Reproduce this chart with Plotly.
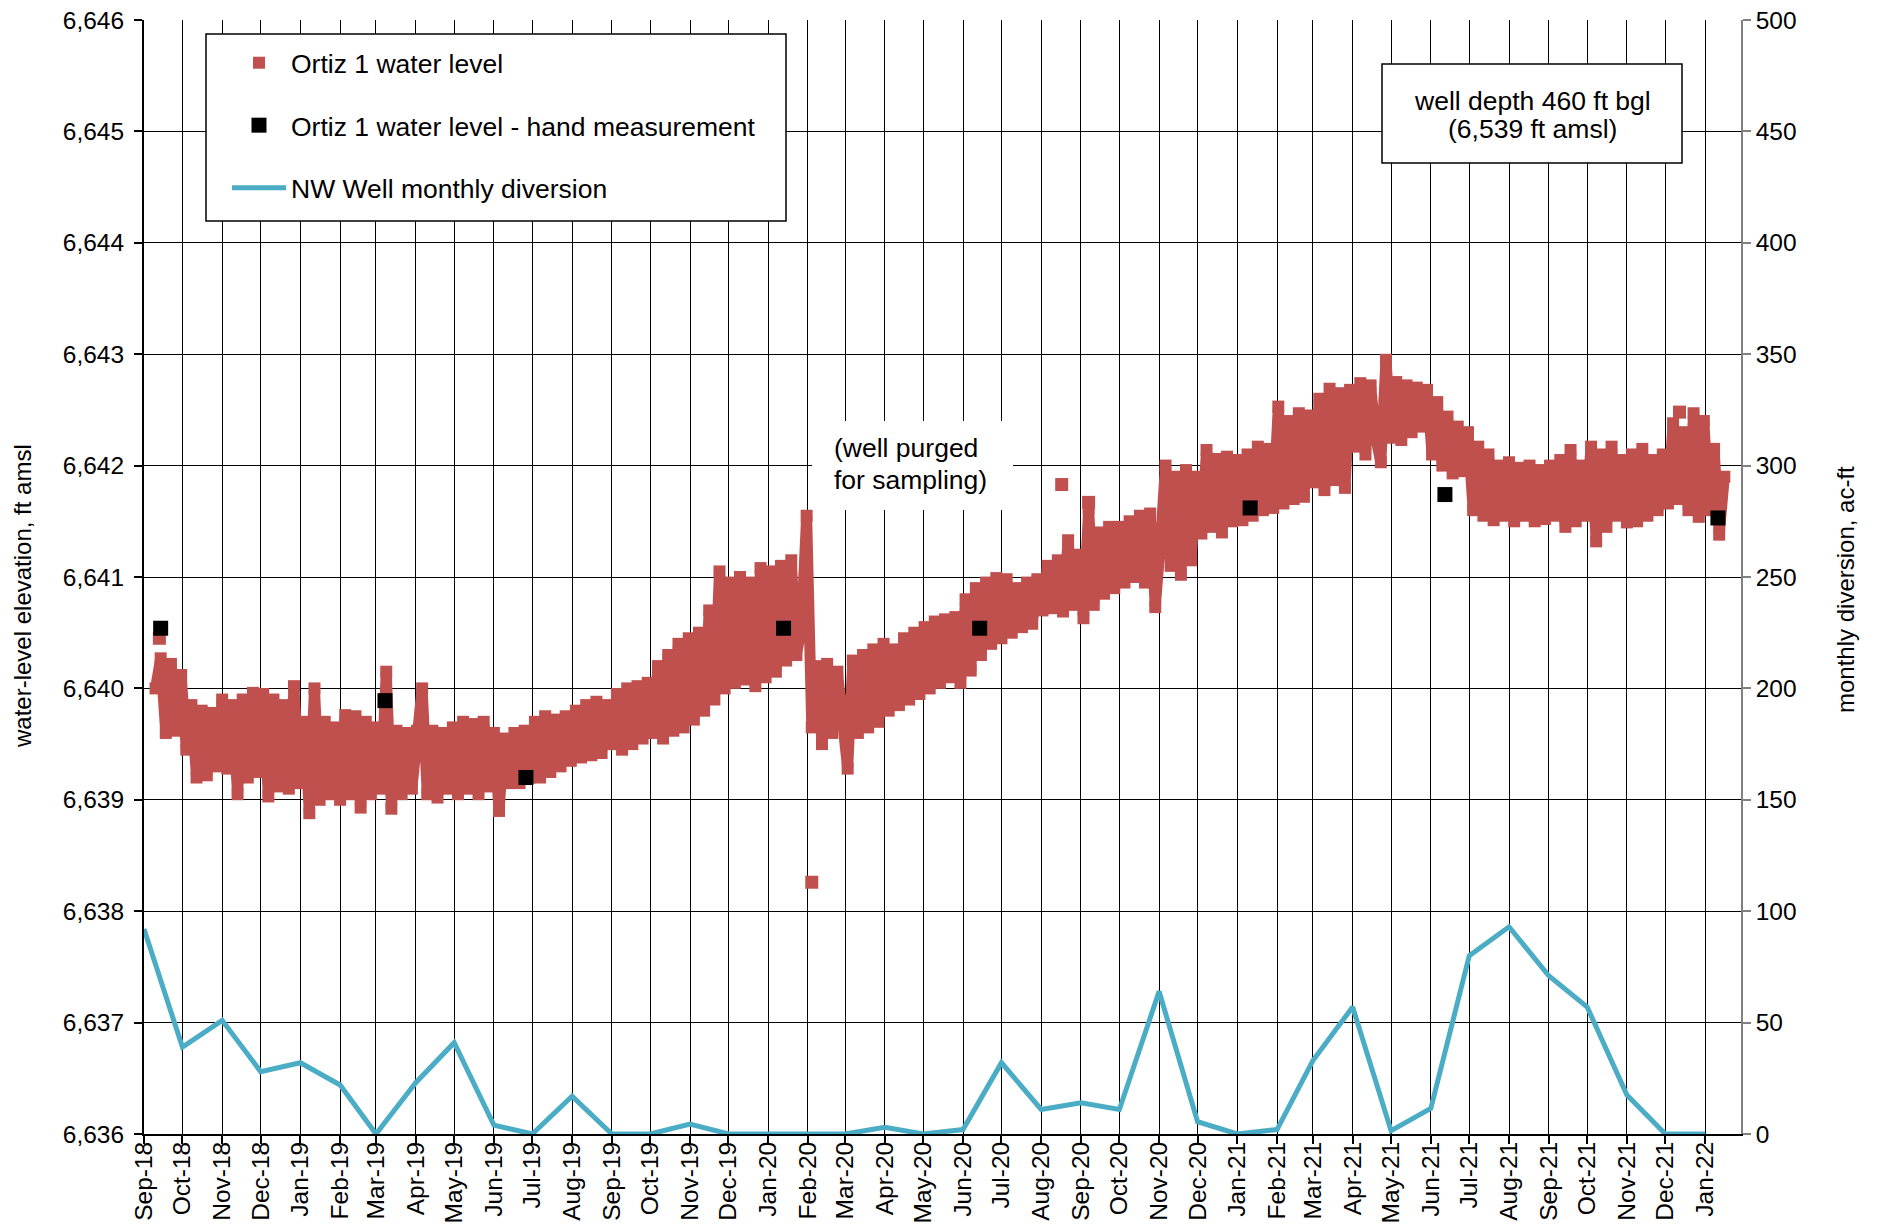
import pandas as pd
import plotly.graph_objects as go

FONT = "Liberation Sans, Arial, sans-serif"
RED = "#C0504D"
BLUE = "#4BACC6"

# ---------------- data ----------------
# Ortiz 1 transducer record, one reading every 4 days from 2018-09-10 (daily lows / highs alternate)
wl_start = "2018-09-10"
wl_2018 = [6640.0, 6640.27, 6639.6, 6640.22, 6639.62, 6640.12,
           6639.45, 6639.85, 6639.2, 6639.8, 6639.22, 6639.78, 6639.3,
           6639.9, 6639.28, 6639.85, 6639.05, 6639.9, 6639.2, 6639.96, 6639.25,
           6639.95, 6639.03, 6639.9, 6639.12, 6639.85, 6639.1, 6640.02, 6639.15]
wl_2019 = [6639.7, 6638.88, 6640.0, 6639.0, 6639.7, 6639.05, 6639.65,
           6639.0, 6639.76, 6639.05, 6639.75, 6638.93, 6639.7, 6639.05,
           6639.65, 6639.1, 6640.15, 6638.92, 6639.62, 6639.05, 6639.6, 6639.1,
           6639.62, 6640.0, 6639.05, 6639.62, 6639.02, 6639.6, 6639.1, 6639.65,
           6639.05, 6639.7, 6639.1, 6639.68, 6639.05, 6639.7, 6639.12,
           6639.6, 6638.9, 6639.55, 6639.15, 6639.6, 6639.15, 6639.62, 6639.2,
           6639.7, 6639.2, 6639.75, 6639.25, 6639.72, 6639.3, 6639.75, 6639.35,
           6639.8, 6639.38, 6639.85, 6639.4, 6639.88, 6639.42, 6639.85,
           6639.5, 6639.95, 6639.45, 6640.0, 6639.5, 6640.02, 6639.55, 6640.05,
           6639.6, 6640.2, 6639.55, 6640.3, 6639.62, 6640.4, 6639.65, 6640.45,
           6639.72, 6640.5, 6639.8, 6640.7, 6639.9, 6641.05, 6640.0,
           6640.95, 6640.05, 6641.0, 6640.08, 6640.95, 6640.02, 6641.08, 6640.1]
wl_2020 = [6641.05, 6640.15, 6641.1, 6640.25, 6641.15, 6640.3, 6640.55, 6641.55,
           6639.65, 6640.2, 6639.5, 6640.22, 6639.6, 6640.15, 6639.75,
           6639.28, 6640.25, 6639.6, 6640.3, 6639.65, 6640.35, 6639.7, 6640.4,
           6639.8, 6640.35, 6639.85, 6640.45, 6639.9, 6640.5, 6639.95,
           6640.55, 6640.0, 6640.6, 6640.05, 6640.62, 6640.1, 6640.64, 6640.05,
           6640.8, 6640.16, 6640.9, 6640.3, 6640.95, 6640.4, 6640.99,
           6640.45, 6640.98, 6640.5, 6640.9, 6640.55, 6640.95, 6640.58, 6640.98,
           6640.7, 6641.1, 6640.72, 6641.15, 6640.69, 6641.33, 6640.75, 6641.2,
           6640.63, 6641.62, 6640.75, 6641.4, 6640.85, 6641.45, 6640.9,
           6641.45, 6640.95, 6641.5, 6641.0, 6641.55, 6640.95, 6641.57, 6640.73,
           6641.3, 6642.0, 6641.1, 6641.9, 6641.02, 6641.96, 6641.15, 6641.9,
           6641.39, 6642.14, 6641.45, 6642.06, 6641.4, 6642.08, 6641.5]
wl_2021 = [6642.05, 6641.51, 6642.1, 6641.55, 6642.17, 6641.6, 6642.15, 6641.62,
           6642.53, 6641.66, 6642.4, 6641.7, 6642.47, 6641.72, 6642.45,
           6641.85, 6642.6, 6641.78, 6642.69, 6641.87, 6642.65, 6641.8, 6642.68,
           6642.17, 6642.74, 6642.1, 6642.72, 6642.25, 6642.03, 6642.95,
           6642.25, 6642.75, 6642.23, 6642.72, 6642.3, 6642.7, 6642.35, 6642.68,
           6642.1, 6642.57, 6642.0, 6642.44, 6641.93, 6642.35, 6641.95, 6642.3,
           6641.6, 6642.17, 6641.55, 6642.1, 6641.51, 6642.0, 6641.55,
           6642.03, 6641.5, 6641.98, 6641.55, 6642.0, 6641.5, 6641.96, 6641.52,
           6642.0, 6641.55, 6642.05, 6641.45, 6642.14, 6641.5, 6642.0, 6641.55,
           6642.17, 6641.32, 6642.1, 6641.45, 6642.17, 6641.55, 6642.05,
           6641.49, 6642.1, 6641.5, 6642.15, 6641.55, 6642.05, 6641.6, 6642.1,
           6641.66, 6642.38, 6641.7, 6642.3, 6641.6, 6642.47, 6641.54, 6642.4]
wl_2022 = [6641.6, 6642.15, 6641.38, 6641.9]

# isolated transducer readings
wl_spot_dates = ["2018-09-13", "2020-02-04", "2020-08-17", "2020-09-07", "2021-12-12"]
wl_spot_vals = [6640.45, 6638.26, 6641.83, 6641.67, 6642.48]

# hand measurements
hand_dates = ["2018-09-14", "2019-03-08", "2019-06-26", "2020-01-13",
              "2020-06-14", "2021-01-11", "2021-06-12", "2022-01-11"]
hand_vals = [6640.54, 6639.89, 6639.20, 6640.54, 6640.54, 6641.62, 6641.74, 6641.53]

# NW Well monthly diversion (ac-ft), Sep-18 .. Jan-22
div_start = "2018-09-01"
div_vals = [92, 39, 51, 28, 32, 22, 0, 23, 41, 4, 0, 17,
            0, 0, 4.5, 0, 0, 0, 0, 3, 0, 2, 32, 11,
            14, 11, 64, 5.5, 0, 2, 33, 57, 1.5, 11.5, 80, 93,
            71, 57, 17.5, 0, 0]

# ---------------- figure ----------------
wl_vals = wl_2018 + wl_2019 + wl_2020 + wl_2021 + wl_2022
wl_dates = [d.strftime("%Y-%m-%d") for d in pd.date_range(wl_start, periods=len(wl_vals), freq="4D")]
div_dates = [d.strftime("%Y-%m-%d") for d in pd.date_range(div_start, periods=len(div_vals), freq="MS")]

W, H = 1879, 1230
ML, MR, MT, MB = 144, 138, 20, 96
PW, PH = W - ML - MR, H - MT - MB


def px(x):
    return (x - ML) / PW


def py(y):
    return (H - MB - y) / PH


fig = go.Figure()

# legend entry for the transducer record
fig.add_trace(go.Scatter(x=[wl_dates[0]], y=[None], mode="markers", name="Ortiz 1 water level",
                         marker=dict(symbol="square", size=12, color=RED),
                         legendgroup="a"))
# continuous record
fig.add_trace(go.Scatter(x=wl_dates, y=wl_vals, mode="lines+markers", showlegend=False,
                         line=dict(color=RED, width=11),
                         marker=dict(symbol="square", size=12, color=RED),
                         legendgroup="a"))
fig.add_trace(go.Scatter(x=wl_spot_dates, y=wl_spot_vals, mode="markers",
                         showlegend=False, marker=dict(symbol="square", size=13, color=RED),
                         legendgroup="a"))
fig.add_trace(go.Scatter(x=hand_dates, y=hand_vals, mode="markers",
                         name="Ortiz 1 water level - hand measurement",
                         marker=dict(symbol="square", size=15, color="black"),
                         legendgroup="b"))
fig.add_trace(go.Scatter(x=div_dates, y=div_vals, mode="lines", yaxis="y2",
                         name="NW Well monthly diversion",
                         line=dict(color=BLUE, width=5), legendgroup="c"))

shapes = [
    # legend frame
    dict(type="rect", xref="paper", yref="paper", x0=px(206), x1=px(786), y0=py(221), y1=py(34),
         line=dict(color="black", width=1.5), fillcolor="white", layer="above"),
    # well depth box
    dict(type="rect", xref="paper", yref="paper", x0=px(1382), x1=px(1682), y0=py(163), y1=py(64),
         line=dict(color="black", width=1.5), fillcolor="white", layer="above"),
    # purge note background
    dict(type="rect", xref="paper", yref="paper", x0=px(812), x1=px(1013), y0=py(510), y1=py(421),
         line=dict(width=0), fillcolor="white", layer="above"),
]

afont = dict(family=FONT, size=26.5, color="black")
tfont = dict(family=FONT, size=24.5, color="black")
annotations = [
    dict(text="well depth 460 ft bgl", x=px(1532), y=py(101), xref="paper", yref="paper",
         xanchor="center", yanchor="middle", showarrow=False, font=afont),
    dict(text="(6,539 ft amsl)", x=px(1532), y=py(129), xref="paper", yref="paper",
         xanchor="center", yanchor="middle", showarrow=False, font=afont),
    dict(text="(well purged", x=px(832), y=py(448), xref="paper", yref="paper",
         xanchor="left", yanchor="middle", showarrow=False, font=afont),
    dict(text="for sampling)", x=px(832), y=py(480), xref="paper", yref="paper",
         xanchor="left", yanchor="middle", showarrow=False, font=afont),
    # axis titles
    dict(text="water-level elevation, ft amsl", x=px(22), y=py(596), xref="paper", yref="paper",
         xanchor="center", yanchor="middle", textangle=-90, showarrow=False,
         font=dict(family=FONT, size=24, color="black")),
    dict(text="monthly diversion, ac-ft", x=px(1845), y=py(589), xref="paper", yref="paper",
         xanchor="center", yanchor="middle", textangle=-90, showarrow=False,
         font=dict(family=FONT, size=24, color="black")),
]

fig.update_layout(
    width=W, height=H,
    margin=dict(l=ML, r=MR, t=MT, b=MB, pad=0, autoexpand=False),
    paper_bgcolor="white", plot_bgcolor="white",
    font=dict(family=FONT, size=24, color="black"),
    showlegend=True,
    legend=dict(x=px(227), y=py(39), xanchor="left", yanchor="top",
                bgcolor="rgba(0,0,0,0)", borderwidth=0,
                font=dict(family=FONT, size=26.5, color="black"),
                itemwidth=54, traceorder="grouped", tracegroupgap=25),
    xaxis=dict(type="date", range=["2018-09-01", "2022-01-29"], tick0="2018-09-01", dtick="M1",
               tickformat="%b-%y", tickangle=-90, ticks="outside", ticklen=8,
               tickcolor="black", tickwidth=1.5, tickfont=tfont, ticklabelstandoff=-12,
               showgrid=True, gridcolor="black", gridwidth=1.3, automargin=False,
               showline=True, linecolor="black", linewidth=2, zeroline=False),
    yaxis=dict(range=[6636, 6646], dtick=1, tickformat=",", ticks="outside", ticklen=8,
               tickcolor="black", tickwidth=1.5, tickfont=tfont, ticklabelstandoff=5,
               showgrid=True, gridcolor="black", gridwidth=1.3, automargin=False,
               showline=True, linecolor="black", linewidth=2, zeroline=False),
    yaxis2=dict(range=[0, 500], dtick=50, overlaying="y", side="right",
                ticks="outside", ticklen=8, tickcolor="#808080", tickwidth=1.5, tickfont=tfont,
                showgrid=False, showline=True, linecolor="#808080", linewidth=1.5,
                zeroline=False, automargin=False),
    shapes=shapes,
    annotations=annotations,
)

fig.write_html("out.html", config={"displayModeBar": False},
               post_script="document.body.style.margin='0';document.body.style.overflow='hidden';")
